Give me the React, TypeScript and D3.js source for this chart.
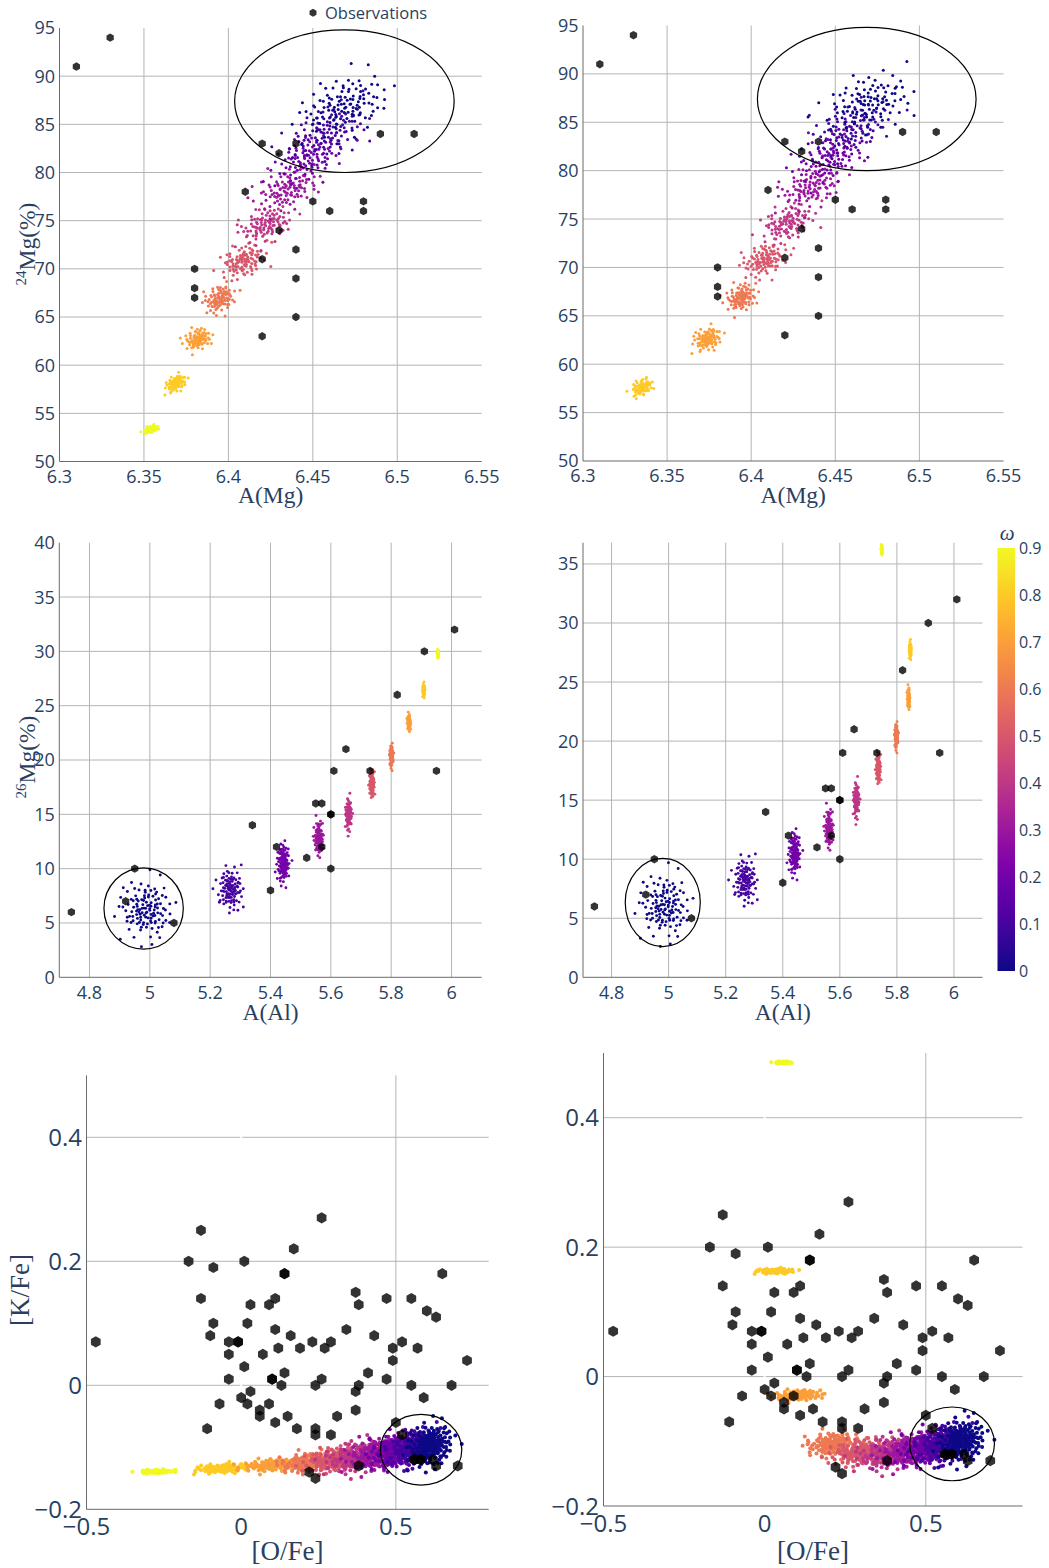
import React from 'react';
import * as d3 from 'd3';

const OMEGA_MAX = 0.9;

// observations: A(Mg) vs 24Mg (%)
const mgObsX = [6.31, 6.33, 6.42, 6.44, 6.43, 6.49, 6.51, 6.41, 6.45, 6.46, 6.48, 6.48, 6.43, 6.44, 6.42, 6.38, 6.38, 6.38, 6.44, 6.44, 6.42];
const mgObsY = [91, 94, 83, 83, 82, 84, 84, 78, 77, 76, 77, 76, 74, 72, 71, 70, 68, 67, 69, 65, 63];

// observations: A(Al) vs 26Mg (%)
const alObsX = [4.74, 4.95, 4.92, 5.08, 5.34, 5.40, 5.42, 5.52, 5.55, 5.57, 5.57, 5.60, 5.60, 5.60, 5.61, 5.65, 5.73, 5.82, 5.91, 5.95, 6.01];
const alObsY = [6, 10, 7, 5, 14, 8, 12, 11, 16, 16, 12, 15, 15, 10, 19, 21, 19, 26, 30, 19, 32];

// observations: [O/Fe] vs [K/Fe]
const kObsX = [
  -0.47, -0.13, -0.17, -0.09, 0.01, 0.14, 0.17, 0.26, -0.13, -0.09,
  -0.10, -0.04, -0.01, -0.04, -0.04, 0.01, 0.03, 0.02, 0.09, 0.11,
  0.11, 0.16, 0.12, 0.19, 0.07, 0.14, 0.10, 0.13, 0.23, 0.27,
  0.29, 0.26, 0.24, 0.34, 0.37, 0.38, 0.43, 0.41, 0.38, 0.37,
  0.37, 0.47, 0.49, 0.49, 0.47, 0.52, 0.55, 0.57, 0.60, 0.63,
  0.65, 0.55, 0.59, 0.68, 0.73, -0.07, 0.00, 0.02, 0.03, 0.06,
  0.06, 0.09, 0.11, 0.15, 0.18, -0.11, 0.24, 0.24, 0.29, 0.31,
  0.50, 0.52, 0.56, 0.58, 0.62, 0.63, 0.70, 0.38, 0.22, 0.24,
  0.14, -0.01, 0.10, 0.56, 0.58,
];
const kObsY = [
  0.07, 0.25, 0.20, 0.19, 0.20, 0.18, 0.22, 0.27, 0.14, 0.10,
  0.08, 0.07, 0.07, 0.05, 0.01, 0.03, 0.13, 0.10, 0.13, 0.14,
  0.09, 0.08, 0.06, 0.06, 0.05, 0.02, 0.01, 0.00, 0.07, 0.06,
  0.07, 0.01, 0.00, 0.09, 0.15, 0.13, 0.08, 0.02, 0.00, -0.01,
  -0.04, 0.14, 0.06, 0.04, 0.01, 0.07, 0.14, 0.06, 0.12, 0.11,
  0.18, 0.00, -0.02, 0.00, 0.04, -0.03, -0.02, -0.03, -0.01, -0.04,
  -0.05, -0.03, -0.06, -0.05, -0.07, -0.07, -0.07, -0.08, -0.08, -0.05,
  -0.06, -0.08, -0.12, -0.12, -0.12, -0.13, -0.13, -0.13, -0.14, -0.15,
  0.18, 0.07, 0.01, -0.12, -0.12,
];

// simulated clusters: [omega, centre x, centre y, sd x, sd y, corr, count]
const mgLeftClusters = [
  [0.9, 6.354, 53.35, 0.002, 0.22, 0.5, 60],
  [0.8, 6.369, 58.1, 0.003, 0.45, 0.4, 70],
  [0.7, 6.382, 62.7, 0.0038, 0.55, 0.3, 80],
  [0.6, 6.395, 66.9, 0.0045, 0.7, 0.3, 90],
  [0.5, 6.409, 70.8, 0.0065, 0.85, 0.35, 100],
  [0.4, 6.422, 74.6, 0.0078, 0.95, 0.4, 100],
  [0.3, 6.435, 78.3, 0.009, 1.1, 0.4, 100],
  [0.2, 6.447, 81.5, 0.01, 1.3, 0.4, 100],
  [0.1, 6.459, 84.3, 0.0115, 1.45, 0.4, 105],
  [0.0, 6.469, 87.0, 0.0125, 1.5, 0.35, 110],
];
const mgRightClusters = [
  [0.8, 6.335, 57.6, 0.003, 0.45, 0.4, 70],
  [0.7, 6.374, 62.6, 0.0042, 0.6, 0.3, 80],
  [0.6, 6.394, 66.9, 0.0045, 0.7, 0.3, 90],
  [0.5, 6.408, 70.8, 0.0065, 0.85, 0.35, 100],
  [0.4, 6.422, 74.6, 0.0078, 0.95, 0.4, 100],
  [0.3, 6.435, 78.3, 0.009, 1.1, 0.4, 100],
  [0.2, 6.447, 81.4, 0.01, 1.3, 0.4, 100],
  [0.1, 6.459, 84.2, 0.0115, 1.45, 0.4, 105],
  [0.0, 6.470, 87.0, 0.0125, 1.5, 0.35, 110],
];
const alLeftClusters = [
  [0.9, 5.955, 29.75, 0.0012, 0.2, 0, 50],
  [0.8, 5.908, 26.4, 0.0018, 0.3, 0, 60],
  [0.7, 5.859, 23.4, 0.0025, 0.38, 0, 70],
  [0.6, 5.801, 20.4, 0.003, 0.48, 0, 80],
  [0.5, 5.736, 17.8, 0.004, 0.58, 0, 80],
  [0.4, 5.659, 15.0, 0.005, 0.68, 0, 90],
  [0.3, 5.560, 12.8, 0.007, 0.78, 0, 90],
  [0.2, 5.442, 10.5, 0.01, 0.9, 0, 100],
  [0.1, 5.267, 8.1, 0.02, 0.95, 0, 100],
  [0.0, 4.988, 6.2, 0.042, 1.25, 0, 120],
];
const alRightClusters = [
  [0.9, 5.747, 36.2, 0.0012, 0.22, 0, 50],
  [0.8, 5.847, 27.7, 0.0018, 0.35, 0, 60],
  [0.7, 5.841, 23.6, 0.0022, 0.45, 0, 70],
  [0.6, 5.798, 20.45, 0.003, 0.5, 0, 80],
  [0.5, 5.735, 17.7, 0.004, 0.6, 0, 80],
  [0.4, 5.658, 15.0, 0.005, 0.7, 0, 90],
  [0.3, 5.562, 12.6, 0.007, 0.8, 0, 90],
  [0.2, 5.441, 10.5, 0.01, 0.9, 0, 100],
  [0.1, 5.268, 8.2, 0.02, 0.95, 0, 100],
  [0.0, 4.987, 6.0, 0.042, 1.25, 0, 120],
];
const kLeftClusters = [
  [0.9, -0.275, -0.139, 0.026, 0.0015, 0.2, 80],
  [0.8, -0.06, -0.134, 0.042, 0.004, 0.3, 100],
  [0.7, 0.10, -0.129, 0.045, 0.005, 0.3, 120],
  [0.6, 0.22, -0.124, 0.045, 0.008, 0.3, 140],
  [0.5, 0.30, -0.120, 0.045, 0.010, 0.3, 150],
  [0.4, 0.37, -0.116, 0.045, 0.012, 0.3, 150],
  [0.3, 0.44, -0.111, 0.045, 0.013, 0.3, 160],
  [0.2, 0.50, -0.106, 0.04, 0.014, 0.3, 160],
  [0.1, 0.56, -0.101, 0.04, 0.015, 0.3, 160],
  [0.0, 0.61, -0.097, 0.035, 0.016, 0.2, 160],
];
const kRightClusters = [
  [0.9, 0.056, 0.4855, 0.012, 0.0008, 0, 60],
  [0.8, 0.035, 0.163, 0.03, 0.002, 0.2, 80],
  [0.7, 0.105, -0.029, 0.035, 0.004, 0.2, 100],
  [0.6, 0.21, -0.104, 0.04, 0.009, 0.2, 130],
  [0.5, 0.30, -0.117, 0.045, 0.010, 0.2, 150],
  [0.4, 0.38, -0.119, 0.045, 0.012, 0.3, 150],
  [0.3, 0.45, -0.114, 0.045, 0.013, 0.3, 160],
  [0.2, 0.51, -0.109, 0.04, 0.014, 0.3, 160],
  [0.1, 0.56, -0.104, 0.04, 0.015, 0.3, 160],
  [0.0, 0.61, -0.100, 0.035, 0.016, 0.2, 160],
];

// highlighted region on each panel: [x0, x1, y0, y1]
const mgRing = [6.4037, 6.5337, 80.0, 94.8];
const alRing = [4.848, 5.111, 2.6, 10.07];
const kRing = [0.450, 0.713, -0.161, -0.047];

// ticks
const mgXTicks = [6.3, 6.35, 6.4, 6.45, 6.5, 6.55];
const mgYTicks = [50, 55, 60, 65, 70, 75, 80, 85, 90, 95];
const alXTicks = [4.8, 5, 5.2, 5.4, 5.6, 5.8, 6];
const alYTicksLeft = [0, 5, 10, 15, 20, 25, 30, 35, 40];
const alYTicksRight = [0, 5, 10, 15, 20, 25, 30, 35];
const kXTicks = [-0.5, 0, 0.5];
const kYTicks = [-0.2, 0, 0.2, 0.4];
const cbTicks = [0, 0.1, 0.2, 0.3, 0.4, 0.5, 0.6, 0.7, 0.8, 0.9];

const TICK = '#2a3f5f';
const GRID = '#b4b4b4';
const AXIS = '#6b6b6b';
const SANS = '"Open Sans", verdana, arial, sans-serif';
const SERIF = '"Liberation Serif", "Times New Roman", serif';

const color = (w: number) => d3.interpolatePlasma(w / OMEGA_MAX);
const fmt = (v: number) => String(v).replace('-', '\u2212');

// low-discrepancy sequence so every cloud is drawn the same way each time
const halton = (i: number, b: number) => {
  let f = 1, r = 0, n = i;
  while (n > 0) { f /= b; r += f * (n % b); n = Math.floor(n / b); }
  return r;
};

const cloud = (c: number[], seed: number) => {
  const [w, cx, cy, sx, sy, rho, n] = c;
  return d3.range(n).map((k) => {
    const i = k + 1 + seed * 211;
    const u1 = Math.max(halton(i, 2), 0.012);
    const u2 = halton(i, 3);
    const r = Math.sqrt(-2 * Math.log(u1));
    const z1 = r * Math.cos(2 * Math.PI * u2);
    const z2 = r * Math.sin(2 * Math.PI * u2);
    return { w, x: cx + sx * z1, y: cy + sy * (rho * z1 + Math.sqrt(1 - rho * rho) * z2) };
  });
};

const hexPath = (r: number) => {
  const pts = d3.range(6).map((k) => {
    const a = (Math.PI / 3) * k - Math.PI / 2;
    return [r * Math.cos(a), r * Math.sin(a)];
  });
  return 'M' + pts.map((p) => p[0].toFixed(2) + ',' + p[1].toFixed(2)).join('L') + 'Z';
};

type Spec = {
  key: string;
  left: number; right: number; top: number; bottom: number;
  xDomain: number[]; yDomain: number[];
  xTicks: number[]; yTicks: number[]; xGrid: number[]; yGrid: number[];
  clusters: number[][]; obsX: number[]; obsY: number[]; ring: number[];
  font: number; labelGap: number; dotR: number; hexR: number; zeroX?: boolean;
  xTitle: React.ReactNode; titleY: number; titleFont: number;
};

const Panel = ({ s }: { s: Spec }) => {
  const x = d3.scaleLinear().domain(s.xDomain).range([s.left, s.right]);
  const y = d3.scaleLinear().domain(s.yDomain).range([s.bottom, s.top]);
  const dots = s.clusters.flatMap((c, i) => cloud(c, i + 1));
  const hex = hexPath(s.hexR);
  const [rx0, rx1, ry0, ry1] = s.ring;
  return (
    <g>
      {s.yGrid.map((v) => (
        <line key={'gy' + v} x1={s.left} x2={s.right} y1={y(v)} y2={y(v)} stroke={GRID} strokeWidth={1} />
      ))}
      {s.xGrid.map((v) => (
        <line key={'gx' + v} x1={x(v)} x2={x(v)} y1={s.top} y2={s.bottom} stroke={GRID} strokeWidth={1} />
      ))}
      {s.zeroX && <line x1={x(0)} x2={x(0)} y1={s.top} y2={s.bottom} stroke="#fff" strokeWidth={2} />}
      <line x1={s.left} x2={s.left} y1={s.top} y2={s.bottom} stroke={AXIS} strokeWidth={1} />
      <line x1={s.left} x2={s.right} y1={s.bottom} y2={s.bottom} stroke={AXIS} strokeWidth={1} />
      <g>
        {dots.map((d, i) => (
          <circle key={i} cx={x(d.x)} cy={y(d.y)} r={s.dotR} fill={color(d.w)} />
        ))}
      </g>
      <g>
        {s.obsX.map((v, i) => (
          <path key={i} d={hex} transform={`translate(${x(v)},${y(s.obsY[i])})`} fill="#000" fillOpacity={0.8} />
        ))}
      </g>
      <ellipse
        cx={(x(rx0) + x(rx1)) / 2}
        cy={(y(ry0) + y(ry1)) / 2}
        rx={(x(rx1) - x(rx0)) / 2}
        ry={(y(ry0) - y(ry1)) / 2}
        fill="none"
        stroke="#000"
        strokeWidth={1.2}
      />
      <g fontFamily={SANS} fontSize={s.font} fill={TICK}>
        {s.xTicks.map((v) => (
          <text key={'tx' + v} x={x(v)} y={s.bottom + s.labelGap} textAnchor="middle">{fmt(v)}</text>
        ))}
        {s.yTicks.map((v) => (
          <text key={'ty' + v} x={s.left - 4.5} y={y(v)} dy="0.36em" textAnchor="end">{fmt(v)}</text>
        ))}
      </g>
      <text x={(s.left + s.right) / 2} y={s.titleY} textAnchor="middle" fontFamily={SERIF} fontSize={s.titleFont} fill={TICK}>
        {s.xTitle}
      </text>
    </g>
  );
};

const mgBase = {
  xDomain: [6.3, 6.55], yDomain: [50, 95], xTicks: mgXTicks, yTicks: mgYTicks,
  xGrid: [6.35, 6.4, 6.45, 6.5], yGrid: [55, 60, 65, 70, 75, 80, 85, 90],
  obsX: mgObsX, obsY: mgObsY, ring: mgRing, font: 18, labelGap: 21, dotR: 1.5, hexR: 4.2,
  xTitle: 'A(Mg)', titleY: 502.5, titleFont: 23.5,
};
const alBase = {
  xDomain: [4.7, 6.1], xTicks: alXTicks, xGrid: alXTicks, yGrid: [5, 10, 15, 20, 25, 30, 35],
  obsX: alObsX, obsY: alObsY, ring: alRing, font: 18, labelGap: 22, dotR: 1.45, hexR: 4.2,
  xTitle: 'A(Al)', titleY: 1019.5, titleFont: 23.5,
};
const kBase = {
  xDomain: [-0.5, 0.8], yDomain: [-0.2, 0.5], xTicks: kXTicks, yTicks: kYTicks,
  xGrid: [0.5], yGrid: [0, 0.2, 0.4], obsX: kObsX, obsY: kObsY, ring: kRing,
  font: 24, labelGap: 26, dotR: 2, hexR: 5.6, zeroX: true,
  xTitle: '[O/Fe]', titleY: 1560, titleFont: 27,
};

const specs: Spec[] = [
  { ...mgBase, key: 'tl', left: 59.5, right: 481.7, top: 28, bottom: 461.5, clusters: mgLeftClusters },
  { ...mgBase, key: 'tr', left: 583, right: 1003.5, top: 25.5, bottom: 461, clusters: mgRightClusters },
  { ...alBase, key: 'ml', left: 59.3, right: 481.7, top: 542.7, bottom: 977.3, yDomain: [0, 40], yTicks: alYTicksLeft, clusters: alLeftClusters },
  { ...alBase, key: 'mr', left: 583, right: 982.5, top: 542.7, bottom: 977.3, yDomain: [0, 36.8], yTicks: alYTicksRight, clusters: alRightClusters },
  { ...kBase, key: 'bl', left: 86.5, right: 488.7, top: 1075.3, bottom: 1509.3, clusters: kLeftClusters },
  { ...kBase, key: 'br', left: 603.5, right: 1022.5, top: 1053, bottom: 1506, clusters: kRightClusters },
];

const ColorBar = () => {
  const x0 = 997.5, x1 = 1015, top = 548, bottom = 971;
  const cy = d3.scaleLinear().domain([0, OMEGA_MAX]).range([bottom, top]);
  const stops = d3.range(0, 1.0001, 0.05);
  return (
    <g>
      <defs>
        <linearGradient id="plasma" x1="0" y1="1" x2="0" y2="0">
          {stops.map((t) => (
            <stop key={t} offset={t} stopColor={d3.interpolatePlasma(t)} />
          ))}
        </linearGradient>
      </defs>
      <rect x={x0} y={top} width={x1 - x0} height={bottom - top} fill="url(#plasma)" />
      <g fontFamily={SANS} fontSize={16} fill={TICK}>
        {cbTicks.map((v) => (
          <text key={v} x={x1 + 4} y={cy(v)} dy="0.36em">{fmt(v)}</text>
        ))}
      </g>
      <text x={(x0 + x1) / 2 + 1} y={540} textAnchor="middle" fontFamily={SERIF} fontStyle="italic" fontSize={21} fill={TICK}>
        ω
      </text>
    </g>
  );
};

export default function App() {
  return (
    <svg width={1049} height={1568} style={{ position: 'absolute', left: 0, top: 0, background: '#fff' }}>
      <rect width={1049} height={1568} fill="#fff" />
      {specs.map((s) => (
        <Panel key={s.key} s={s} />
      ))}
      <ColorBar />
      <g>
        <path d={hexPath(4)} transform="translate(313,12.7)" fill="#000" fillOpacity={0.8} />
        <text x={325} y={18.8} fontFamily={SANS} fontSize={16.5} fill={TICK}>Observations</text>
      </g>
      <text transform="translate(35,244) rotate(-90)" textAnchor="middle" fontFamily={SERIF} fontSize={23.5} fill={TICK}>
        <tspan fontSize={15} dy={-9}>24</tspan>
        <tspan dy={9}>Mg(%)</tspan>
      </text>
      <text transform="translate(35,757) rotate(-90)" textAnchor="middle" fontFamily={SERIF} fontSize={23.5} fill={TICK}>
        <tspan fontSize={15} dy={-9}>26</tspan>
        <tspan dy={9}>Mg(%)</tspan>
      </text>
      <text transform="translate(29,1290) rotate(-90)" textAnchor="middle" fontFamily={SERIF} fontSize={27} fill={TICK}>
        [K/Fe]
      </text>
    </svg>
  );
}
